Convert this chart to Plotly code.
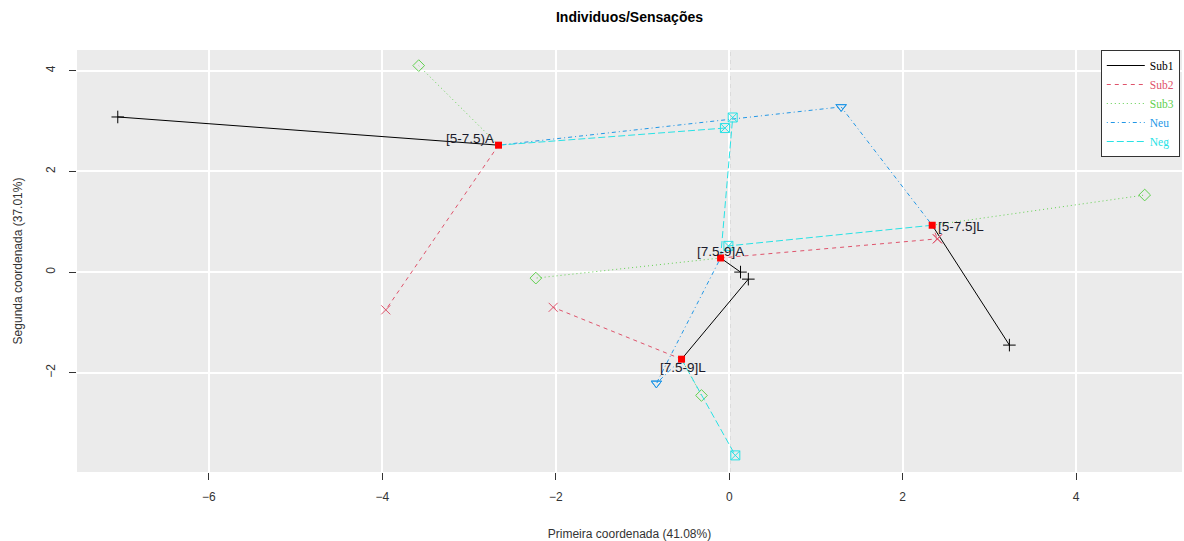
import plotly.graph_objects as go

# ---- data ----
individuals = ["[5-7.5)A", "[5-7.5]L", "[7.5-9]A", "[7.5-9]L"]
mean_x = [-2.66, 2.34, -0.10, -0.55]
mean_y = [2.52, 0.93, 0.28, -1.73]

groups = ["Sub1", "Sub2", "Sub3", "Neu", "Neg"]
sub1_x = [-7.05, 3.23, 0.13, 0.22]
sub1_y = [3.08, -1.45, 0.00, -0.14]
sub2_x = [-3.96, 2.40, 2.40, -2.03]
sub2_y = [-0.75, 0.66, 0.66, -0.70]
sub3_x = [-3.58, 4.79, -2.23, -0.32]
sub3_y = [4.10, 1.53, -0.12, -2.45]
neu_x = [1.29, 1.29, -0.84, -0.84]
neu_y = [3.28, 3.28, -2.21, -2.21]
neg_x = [-0.05, -0.01, 0.04, 0.07]
neg_y = [2.86, 0.52, 3.07, -3.64]

partial_x = [sub1_x, sub2_x, sub3_x, neu_x, neg_x]
partial_y = [sub1_y, sub2_y, sub3_y, neu_y, neg_y]

colors = ["#000000", "#DF536B", "#61D04F", "#2297E6", "#28E2E5"]
dashes = ["solid", "4px,4px", "1px,3px", "1px,3px,4px,3px", "7px,3px"]
symbols = ["cross-thin-open", "x-thin-open", "diamond-open", "triangle-down-open", "square-x-open"]

x_ticks = [-6, -4, -2, 0, 2, 4]
y_ticks = [-2, 0, 2, 4]

fig = go.Figure()

# reference lines
fig.add_hline(y=0, line=dict(color="#000000", width=1.4, dash="4px,4px"), layer="below")
fig.add_vline(x=0, line=dict(color="#444444", width=1.7, dash="4px,4px"), layer="below")

for g, px, py, c, d, s in zip(groups, partial_x, partial_y, colors, dashes, symbols):
    lx, ly = [], []
    for mx, my, ox, oy in zip(mean_x, mean_y, px, py):
        lx += [mx, ox, None]
        ly += [my, oy, None]
    fig.add_trace(go.Scatter(
        x=lx, y=ly, mode="lines",
        line=dict(color=c, width=1, dash=d),
        name=f"<span style='color:{c}'>{g}</span>",
        hoverinfo="skip",
    ))
    fig.add_trace(go.Scatter(
        x=px, y=py, mode="markers", showlegend=False,
        marker=dict(symbol=s, size=9, color=c, line=dict(color=c, width=1)),
        name=g,
    ))

fig.add_trace(go.Scatter(
    x=mean_x, y=mean_y, mode="markers", showlegend=False,
    marker=dict(symbol="square", size=7, color="#FF0000"),
    name="Individuos",
))

label_shift = [(-29, 7), (29, -1), (0, 6), (1, -8)]
for name, mx, my, (sx, sy) in zip(individuals, mean_x, mean_y, label_shift):
    fig.add_annotation(x=mx, y=my, text=name, showarrow=False,
                       xshift=sx, yshift=sy,
                       font=dict(family="Liberation Sans, Arial", size=13.5, color="#1a1a2a"))

axis_common = dict(
    showgrid=True, gridcolor="#FFFFFF", gridwidth=2,
    zeroline=False, showline=False,
    ticks="outside", ticklen=7, tickcolor="#333333", tickwidth=1,
    tickfont=dict(family="Liberation Sans, Arial", size=12, color="#333333"),
    automargin=False,
)

fig.update_layout(
    width=1184, height=541,
    margin=dict(l=77, r=2, t=50, b=69),
    paper_bgcolor="#FFFFFF", plot_bgcolor="#EBEBEB",
    title=dict(text="<b>Individuos/Sensações</b>", x=0.5, xref="paper",
               y=1 - 17 / 541, yref="container", yanchor="middle",
               font=dict(family="Liberation Sans, Arial", size=14, color="#000000")),
    xaxis=dict(range=[-7.52, 5.22], tickvals=x_ticks, ticklabelstandoff=7,
               title=dict(text="Primeira coordenada (41.08%)", standoff=29,
                          font=dict(family="Liberation Sans, Arial", size=12, color="#333333")),
               **axis_common),
    yaxis=dict(range=[-3.97, 4.41], tickvals=y_ticks, tickangle=-90, ticklabelstandoff=9,
               title=dict(text="Segunda coordenada (37.01%)", standoff=19,
                          font=dict(family="Liberation Sans, Arial", size=12, color="#333333")),
               **axis_common),
    legend=dict(x=0.998, xanchor="right", y=1, yanchor="top",
                bgcolor="#FFFFFF", bordercolor="#333333", borderwidth=1,
                font=dict(family="Liberation Serif, Times New Roman", size=11.5),
                tracegroupgap=0, itemwidth=38),
    showlegend=True,
)

fig.write_html("out.html", config={"displayModeBar": False},
               post_script="document.body.style.margin='0';")
